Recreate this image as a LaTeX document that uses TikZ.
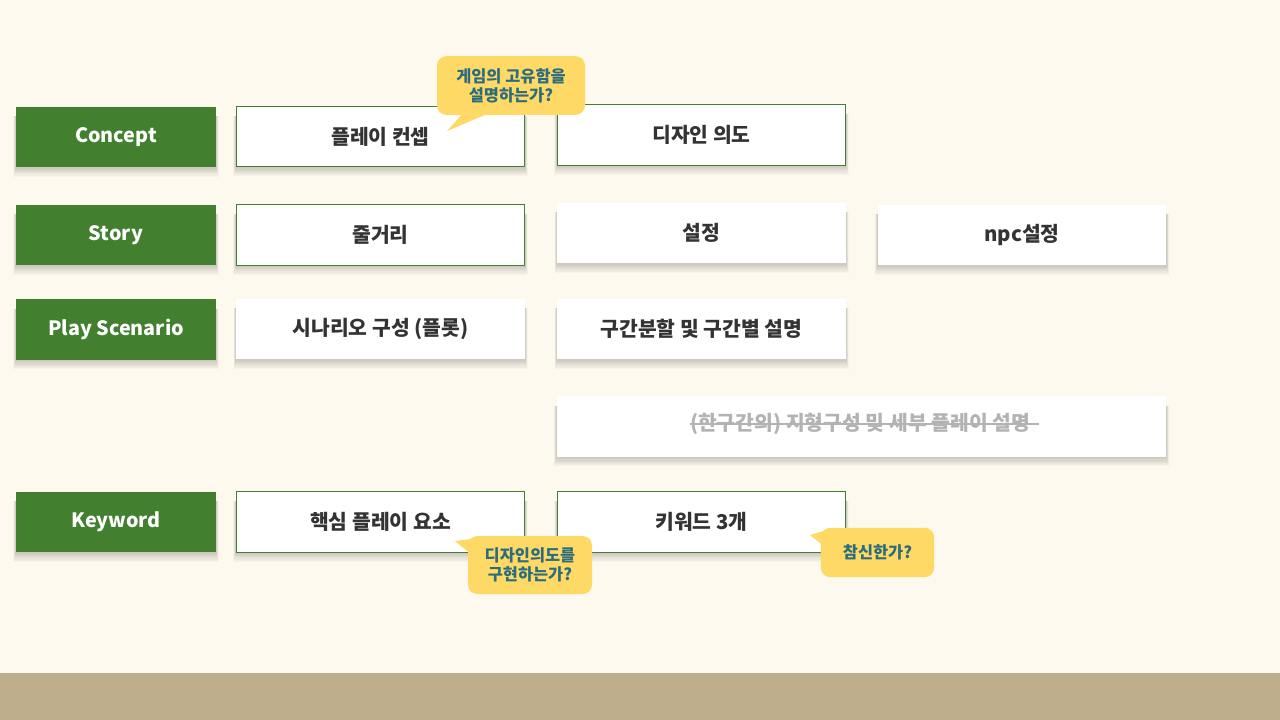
\documentclass[tikz,border=0pt]{standalone}
\usepackage{fontspec}
\setmainfont{Noto Sans CJK KR}
\usetikzlibrary{calc,backgrounds}
\definecolor{bgc}{HTML}{FDF9EE}
\definecolor{barc}{HTML}{BFAE8B}
\definecolor{greenc}{HTML}{42802F}
\definecolor{txtc}{HTML}{333333}
\definecolor{callc}{HTML}{FFD966}
\definecolor{calltxt}{HTML}{2C6C7C}
\definecolor{strikec}{HTML}{B3B3B3}
\tikzset{
  cat/.style={fill=greenc, text=white, minimum width=150pt, minimum height=45.5pt, inner sep=0pt, font=\bfseries\fontsize{14.8}{16}\selectfont},
  box/.style={fill=white, text=txtc, minimum width=216.5pt, minimum height=45.5pt, inner sep=0pt, font=\bfseries\fontsize{15.3}{17}\selectfont},
  gbox/.style={box, draw=greenc, line width=0.6pt},
  call/.style={fill=callc, rounded corners=7pt, text=calltxt, align=center, inner sep=0pt, font=\bfseries\fontsize{12.3}{14.5}\selectfont},
  tail/.style={fill=callc},
  shadowpiece/.style={fill=black, fill opacity=0.022}
}
\newcommand{\boxshadow}[1]{%
  \begin{scope}[on background layer]
    \foreach \k in {1,...,8}{
      \fill[shadowpiece] ($(#1.north west)+(-\k*0.3,10)$) rectangle ($(#1.south east)+(\k*0.3,\k*1.15)$);
    }
  \end{scope}}
\begin{document}
\begin{tikzpicture}[x=0.75pt,y=-0.75pt]
\begin{scope}[on background layer]
\fill[bgc] (0,0) rectangle (1280,720);
\fill[barc] (0,673) rectangle (1280,720);
\end{scope}
\useasboundingbox (0,0) rectangle (1280,720);

% category boxes
\node[cat] (cConcept) at (116,137) {Concept};
\node[cat] (cStory) at (116,235) {Story};
\node[cat] (cPlay) at (116,329.5) {Play Scenario};
\node[cat] (cKey) at (116,522) {Keyword};

% content boxes
\node[gbox] (b11) at (380.5,136.5) {플레이 컨셉};
\node[gbox] (b12) at (701.5,135) {디자인 의도};
\node[gbox] (b21) at (380.5,235) {줄거리};
\node[box] (b22) at (701.5,233) {설정};
\node[box] (b23) at (1022,235) {npc설정};
\node[box] (b31) at (380.5,329) {시나리오 구성 (플롯)};
\node[box] (b32) at (701.5,329) {구간분할 및 구간별 설명};
\node[box, minimum width=457pt] (b41) at (861.5,426.5) {};
\node[text=strikec, font=\bfseries\fontsize{15.3}{17}\selectfont, inner sep=0pt] (st) at (860,424) {(한구간의) 지형구성 및 세부 플레이 설명};
\draw[strikec, line width=1.3pt] (st.west) -- ($(st.east)+(9,0)$);
\node[gbox] (b51) at (380.5,522) {핵심 플레이 요소};
\node[gbox] (b52) at (701.5,522) {키워드 3개};

\foreach \n in {cConcept,cStory,cPlay,cKey,b11,b12,b21,b22,b23,b31,b32,b41,b51,b52}{\boxshadow{\n}}

% callouts
\coordinate (t1) at (447,131);
\coordinate (t2) at (455,541);
\coordinate (t3) at (810,535);
\node[call, minimum width=111pt, minimum height=44pt] (q1) at (511,85.5) {게임의 고유함을\\설명하는가?};
\fill[tail] (464,112) -- (t1) -- (492,112) -- cycle;
\node[call, minimum width=93pt, minimum height=43.5pt] (q2) at (530,565) {디자인의도를\\구현하는가?};
\fill[tail] (471,539) -- (t2) -- (478,560) -- cycle;
\node[call, minimum width=85pt, minimum height=37pt] (q3) at (877.5,552.5) {참신한가?};
\fill[tail] (824,531) -- (t3) -- (831,552) -- cycle;
\end{tikzpicture}
\end{document}
